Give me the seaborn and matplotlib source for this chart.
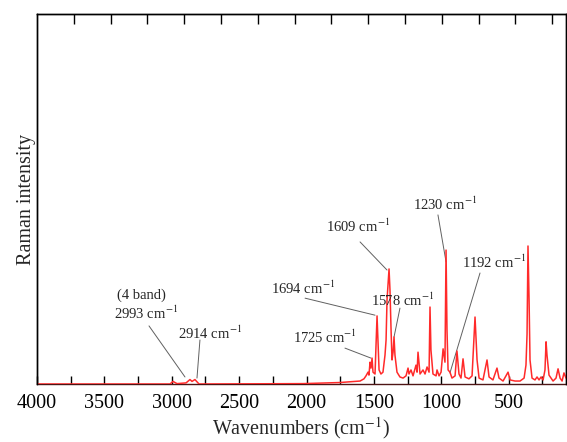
import pandas as pd
import matplotlib.pyplot as plt
import seaborn as sns

# spectrum: wavenumber (cm-1) and intensity (arb. units, 0-100)
wavenumber = [4000, 3087, 3013, 2991, 2961, 2894, 2865, 2850, 2828, 2798,
              2026, 1752, 1603, 1574, 1559, 1544, 1537, 1529, 1522, 1514,
              1507, 1492, 1477, 1462, 1448, 1433, 1418, 1410, 1403, 1388,
              1381, 1373, 1366, 1358, 1351, 1344, 1329, 1307, 1284, 1262,
              1247, 1240, 1225, 1210, 1188, 1180, 1173, 1158, 1136, 1121,
              1106, 1091, 1084, 1077, 1062, 1039, 1032, 1017, 1002, 987,
              973, 965, 958, 950, 936, 921, 898, 884, 869, 854,
              839, 824, 795, 772, 750, 735, 720, 691, 661, 646,
              617, 587, 572, 542, 505, 490, 453, 416, 386, 372,
              364, 357, 349, 342, 327, 305, 290, 275, 260, 245,
              231, 223, 216, 201, 186, 171, 149, 134, 119, 104,
              90, 75]
intensity = [0, 0, 0, 0.7, 0.1, 0.3, 1.2, 0.7, 1.2, 0,
             0.1, 0.4, 0.8, 1.4, 2.2, 3.2, 2.4, 5.9, 4.3, 7.0,
             3.2, 2.7, 18.4, 3.8, 2.7, 3.2, 7.8, 11.9, 22.7, 31.1,
             25.4, 14.6, 6.5, 8.6, 12.7, 7.8, 3.2, 1.9, 1.6, 2.2,
             4.3, 2.7, 3.8, 2.2, 5.1, 3.2, 8.6, 2.7, 3.8, 2.7,
             4.6, 3.2, 20.8, 9.2, 2.7, 2.2, 3.8, 2.2, 3.2, 9.5,
             5.9, 36.2, 14.6, 3.8, 3.2, 1.6, 2.2, 8.9, 2.7, 1.6,
             6.8, 1.9, 1.4, 2.2, 18.1, 6.5, 1.6, 1.1, 6.5, 1.9,
             1.1, 4.3, 1.6, 0.8, 3.2, 1.1, 0.8, 0.8, 1.6, 5.1,
             13.5, 37.3, 22.7, 6.5, 1.6, 1.1, 1.9, 1.1, 1.9, 1.1,
             3.8, 11.4, 7.8, 2.4, 1.6, 0.8, 1.6, 4.1, 1.6, 0.8,
             3.0, 1.6]

# band labels: text, text position, leader line start and end
ann_text = ['(4 band)', '2993 cm$^{-1}$', '2914 cm$^{-1}$', '1694 cm$^{-1}$',
            '1725 cm$^{-1}$', '1609 cm$^{-1}$', '1578 cm$^{-1}$',
            '1230 cm$^{-1}$', '1192 cm$^{-1}$']
ann_x = [3228, 3191, 2716, 2026, 1863, 1618, 1284, 973, 609]
ann_y = [24.1, 19.2, 13.8, 25.9, 12.7, 42.7, 22.7, 48.6, 33.0]
lead_x0 = [3169, 2791, 2011, 1715, 1603, 1307, 1025, 713]
lead_y0 = [15.7, 11.9, 23.2, 9.7, 38.4, 20.5, 45.7, 30.0]
lead_x1 = [2902, 2813, 1492, 1522, 1403, 1351, 965, 936]
lead_y1 = [1.9, 1.6, 18.6, 7.0, 30.8, 12.7, 33.0, 3.0]

df = pd.DataFrame({'wn': wavenumber, 'I': intensity})

sns.set_style('ticks', {'axes.edgecolor': 'black', 'xtick.color': 'black'})
plt.rcParams['font.family'] = ['Liberation Serif', 'DejaVu Serif']
plt.rcParams['mathtext.fontset'] = 'stix'

fig = plt.figure(figsize=(5.67, 4.42), dpi=100)
ax = fig.add_axes([37/567, 1 - 384/442, 529/567, 370/442])

sns.lineplot(data=df, x='wn', y='I', color='#ff2a2a', lw=1.1,
             estimator=None, sort=False, ax=ax, zorder=3)

for i in range(len(lead_x0)):
    ax.plot([lead_x0[i], lead_x1[i]], [lead_y0[i], lead_y1[i]],
            color='#606060', lw=0.7, zorder=2)
for t, x, y in zip(ann_text, ann_x, ann_y):
    ax.text(x, y, t, ha='center', va='center', fontsize=10.5)

ax.set_xlim(4000, 75)
ax.set_ylim(0, 100)
ax.set_xticks(range(4000, 0, -500))
ax.set_xticks(range(3750, 0, -500), minor=True)
ax.set_yticks([])
ax.tick_params(axis='x', which='both', direction='in', length=6,
               width=1, labelsize=14.5, pad=7, color='black')
ax.set_xlabel('Wavenumbers (cm$^{-1}$)', fontsize=14.5, labelpad=2)
ax.set_ylabel('Raman intensity', fontsize=14.5, labelpad=1)
for s in ax.spines.values():
    s.set_linewidth(1.0)
    s.set_color('black')
ax.spines['bottom'].set_color('#4d1515')

# top axis carries its own tick spacing
ax2 = ax.twiny()
ax2.set_xlim(0, 529 / 36.8)
ax2.set_xticks(range(1, 15))
ax2.tick_params(axis='x', direction='in', length=7, width=1,
                labeltop=False, color='black')
for s in ax2.spines.values():
    s.set_linewidth(1.0)
    s.set_color('black')
ax2.spines['bottom'].set_visible(False)

fig.savefig('out.png', dpi=100)
